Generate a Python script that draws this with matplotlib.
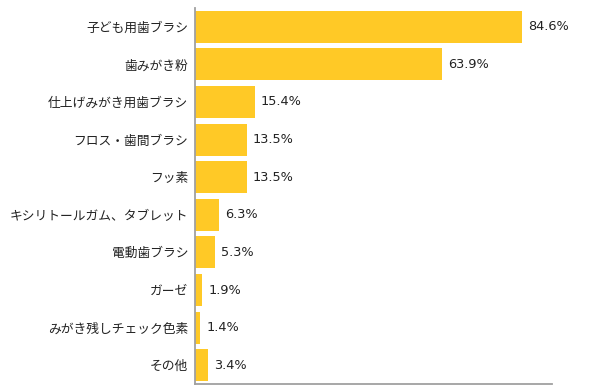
import matplotlib
matplotlib.use("Agg")
import matplotlib.pyplot as plt

plt.rcParams['font.family'] = ['Noto Sans CJK JP', 'DejaVu Sans']

# --------------------------------------------------------
# Data
# --------------------------------------------------------
categories = [
    "子ども用歯ブラシ",
    "歯みがき粉",
    "仕上げみがき用歯ブラシ",
    "フロス・歯間ブラシ",
    "フッ素",
    "キシリトールガム、タブレット",
    "電動歯ブラシ",
    "ガーゼ",
    "みがき残しチェック色素",
    "その他",
]
values = [84.6, 63.9, 15.4, 13.5, 13.5, 6.3, 5.3, 1.9, 1.4, 3.4]

bar_color = "#FFC926"
axis_color = "#A0A0A0"

# --------------------------------------------------------
# Plot
# --------------------------------------------------------
fig = plt.figure(figsize=(6.0, 3.92), dpi=100)
ax = fig.add_axes([0.325, 0.0204, 0.595, 0.9592])

y = list(range(len(categories)))
ax.barh(y, values, height=0.85, color=bar_color)

# value labels, wider latin font like the original
for yi, v in zip(y, values):
    ax.text(v + 1.5, yi, f"{v}%", va="center", ha="left", fontsize=9.3,
            color="#222222", family=["DejaVu Sans"])

ax.set_yticks(y)
ax.set_yticklabels(categories, fontsize=9.2, color="#222222")
ax.set_ylim(len(categories) - 0.5, -0.5)
ax.set_xlim(0, 92.4)
ax.set_xticks([])
ax.tick_params(axis="y", length=0, pad=5)

for side in ["top", "right"]:
    ax.spines[side].set_visible(False)
for side in ["left", "bottom"]:
    ax.spines[side].set_color(axis_color)
    ax.spines[side].set_linewidth(1.3)

fig.savefig("out.png", dpi=100)
